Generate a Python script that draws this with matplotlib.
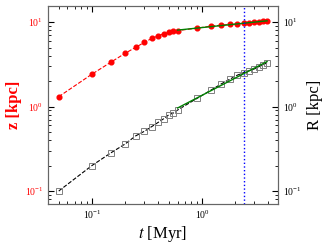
import numpy as np
import matplotlib
matplotlib.use("Agg")
import matplotlib.pyplot as plt

plt.rcParams["font.family"] = "serif"
plt.rcParams["font.serif"] = ["Liberation Serif", "DejaVu Serif"]
plt.rcParams["mathtext.fontset"] = "stix"

# time in Myr
t = [0.05, 0.1, 0.15, 0.2, 0.25, 0.3, 0.35, 0.4, 0.45, 0.5, 0.55, 0.6,
     0.9, 1.2, 1.5, 1.8, 2.1, 2.4, 2.7, 3.0, 3.3, 3.6, 3.9]
# height z [kpc]
z = [1.31, 2.42, 3.38, 4.27, 5.04, 5.77, 6.42, 6.9, 7.3, 7.55, 7.8, 7.95,
     8.5, 8.98, 9.2, 9.45, 9.5, 9.7, 9.9, 10.0, 10.1, 10.2, 10.4]
# radius R [kpc]
R = [0.10, 0.20, 0.285, 0.36, 0.45, 0.51, 0.58, 0.65, 0.72, 0.80, 0.84, 0.91,
     1.25, 1.56, 1.86, 2.12, 2.36, 2.53, 2.67, 2.80, 2.98, 3.12, 3.32]
t_fit_start = 0.6
t_mark = 2.4

t_arr = np.array(t)
sel = t_arr >= t_fit_start


def powerlaw_fit(x, y):
    # straight line in log-log space over the late-time points
    p = np.polyfit(np.log10(x), np.log10(y), 1)
    return 10 ** np.polyval(p, np.log10(x))


fig = plt.figure(figsize=(3.27, 2.45), dpi=100)
ax = fig.add_axes([0.147, 0.167, 0.703, 0.808])
ax2 = ax.twinx()

ax.plot(t, z, "--", color="red", lw=0.8, marker="o", ms=3.4, mec="red", mfc="red")
ax.plot(t_arr[sel], powerlaw_fit(t_arr[sel], np.array(z)[sel]), "-", color="green", lw=1.0)

ax2.plot(t, R, "--", color="black", lw=0.8, marker="s", ms=4, mec="0.5", mfc="none", mew=0.7)
ax2.plot(t_arr[sel], powerlaw_fit(t_arr[sel], np.array(R)[sel]), "-", color="green", lw=1.0)

ax.axvline(t_mark, color="blue", ls=":", lw=1.0)

for a in (ax, ax2):
    a.set_xscale("log")
    a.set_yscale("log")
    a.set_ylim(0.07, 15.5)
    for s in a.spines.values():
        s.set_color("0.4")
ax.set_xlim(0.04, 4.9)

ax.tick_params(which="both", direction="in", top=True, right=False, labelsize=7)
ax.tick_params(axis="y", which="both", labelcolor="red")
ax.tick_params(which="major", length=4)
ax.tick_params(which="minor", length=2)
ax2.tick_params(which="both", direction="in", labelsize=7)
ax2.tick_params(which="major", length=4)
ax2.tick_params(which="minor", length=2)

ax.set_xlabel("$t$ [Myr]", fontsize=12, labelpad=2)
ax.set_ylabel("z [kpc]", fontsize=12, color="red", fontweight="bold", labelpad=2)
ax2.set_ylabel("R [kpc]", fontsize=12, labelpad=4)

fig.savefig("out.png", dpi=100)
